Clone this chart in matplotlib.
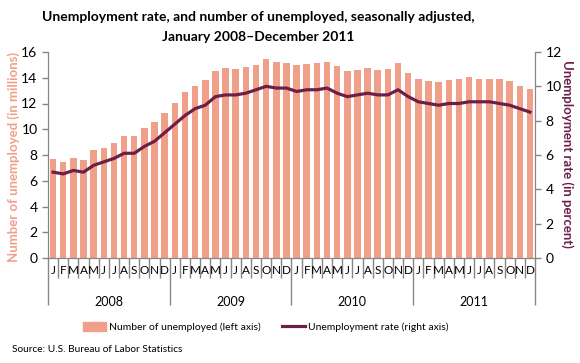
import numpy as np
import matplotlib.pyplot as plt
from matplotlib.patches import Patch
from matplotlib.lines import Line2D

plt.rcParams['font.family'] = ['Lato', 'DejaVu Sans']

months = ["J", "F", "M", "A", "M", "J", "J", "A", "S", "O", "N", "D"] * 4
years = ["2008", "2009", "2010", "2011"]

# number of unemployed, millions
unemployed = [7.69, 7.46, 7.77, 7.61, 8.39, 8.54, 8.93, 9.48, 9.48, 10.10, 10.56, 11.26,
              12.04, 12.89, 13.36, 13.83, 14.52, 14.76, 14.68, 14.83, 14.99, 15.46, 15.22, 15.15,
              14.99, 15.07, 15.15, 15.22, 14.91, 14.52, 14.60, 14.76, 14.60, 14.68, 15.15, 14.37,
              13.90, 13.75, 13.67, 13.83, 13.90, 14.06, 13.90, 13.90, 13.90, 13.75, 13.36, 13.13]

# unemployment rate, percent
rate = [5.0, 4.9, 5.1, 5.0, 5.4, 5.6, 5.8, 6.1, 6.1, 6.5, 6.8, 7.3,
        7.8, 8.3, 8.7, 8.9, 9.4, 9.5, 9.5, 9.6, 9.8, 10.0, 9.9, 9.9,
        9.7, 9.8, 9.8, 9.9, 9.6, 9.4, 9.5, 9.6, 9.5, 9.5, 9.8, 9.4,
        9.1, 9.0, 8.9, 9.0, 9.0, 9.1, 9.1, 9.1, 9.0, 8.9, 8.7, 8.5]

bar_col = "#F0A088"
line_col = "#6E1F48"
grey = "#868686"

x = np.arange(len(unemployed))

fig = plt.figure(figsize=(5.8, 3.63), dpi=100)
ax = fig.add_axes([48/580, 1-258/363, 487/580, 206/363])
ax.bar(x, unemployed, width=0.64, color=bar_col, zorder=2)
ax.set_xlim(-0.5, 47.5)
ax.set_ylim(0, 16)
ax.set_yticks(np.arange(0, 17, 2))

ax2 = ax.twinx()
ax2.plot(x, rate, color=line_col, lw=2.3, zorder=3)
ax2.set_ylim(0, 12)
ax2.set_yticks(np.arange(0, 13, 2))
ax2.set_xlim(-0.5, 47.5)

for a in (ax, ax2):
    a.spines['top'].set_visible(False)
    for s in a.spines.values():
        s.set_color(grey)
    a.tick_params(axis='y', colors=grey, labelcolor='black', labelsize=10, length=4, width=1)

# month/year separators
bounds = np.arange(-0.5, 48, 1)
year_bounds = [-0.5, 11.5, 23.5, 35.5, 47.5]
ax.set_xticks(year_bounds)
ax.set_xticklabels([])
ax.set_xticks([b for b in bounds if b not in year_bounds], minor=True)
ax.tick_params(axis='x', which='major', length=34, color=grey, width=1)
ax.tick_params(axis='x', which='minor', length=14.5, color=grey, width=1)
ax2.tick_params(axis='x', which='both', length=0)

tr = ax.get_xaxis_transform()
for i, m in enumerate(months):
    ax.text(x[i], -0.06, m, transform=tr, ha='center', va='center', fontsize=8.5)
for k, yr in enumerate(years):
    ax.text(k*12 + 5.5, -0.215, yr, transform=tr, ha='center', va='center', fontsize=9)

fig.text(14/580, 1-157/363, "Number of unemployed (in millions)", rotation=90,
         ha='center', va='center', fontsize=9.5, fontweight='bold', color=bar_col)
fig.text(567/580, 1-154/363, "Unemployment rate (in percent)", rotation=270,
         ha='center', va='center', fontsize=9.5, fontweight='bold', color=line_col)

fig.text(258/580, 1-17/363, "Unemployment rate, and number of unemployed, seasonally adjusted,",
         ha='center', va='center', fontsize=10, fontweight='bold')
fig.text(258/580, 1-37/363, "January 2008\u2013December 2011",
         ha='center', va='center', fontsize=10, fontweight='bold')

handles = [Patch(color=bar_col), Line2D([], [], color=line_col, lw=2.3)]
fig.legend(handles, ["Number of unemployed (left axis)", "Unemployment rate (right axis)"],
           loc='center', bbox_to_anchor=(266/580, 1-327/363), ncol=2, frameon=False,
           fontsize=7.5, handlelength=2.2, handleheight=0.9, handletextpad=0.3, columnspacing=2.0)

fig.text(12/580, 1-350/363, "Source: U.S. Bureau of Labor Statistics", ha='left', va='center', fontsize=7.3)

fig.savefig("out.png", dpi=100)
